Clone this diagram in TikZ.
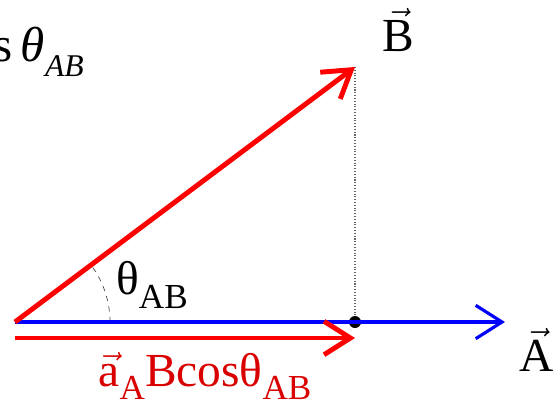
\documentclass[tikz,border=0pt]{standalone}
\usepackage{fontspec}
\usepackage{amsmath}
\setmainfont{Liberation Serif}
\usetikzlibrary{arrows.meta}
\newcommand{\lowsub}[1]{\raisebox{-0.28em}{\fontsize{20}{22}\selectfont #1}}
\tikzset{
  lbl/.style={font=\fontsize{27}{30}\selectfont},
  vecarrow/.style={->,line width=#1},
}
\begin{document}
\begin{tikzpicture}[>={Straight Barb[length=15pt,width=19pt]},x=0.02cm,y=0.02cm]
    \useasboundingbox (0,0) rectangle (554,407);
    \clip (0,0) rectangle (554,407);
    \coordinate (O) at (15,85);
    \coordinate (Btip) at (355,340);
    \coordinate (Atip) at (505,85);
    \coordinate (projS) at (15,69);
    \coordinate (projE) at (355,69);
    \node[circle,fill=black,inner sep=0pt,minimum size=0.24cm] (foot) at (355,85) {};
    \draw[densely dotted,gray!80!black,line width=0.6pt] (Btip) -- (foot);
    \draw[dashed,gray!60!black,thin] (110,85) arc[start angle=0,end angle=36.87,radius=95];
    \draw[vecarrow=1.8pt,blue] (O) -- (Atip);
    \draw[vecarrow=2.8pt,red] (O) -- (Btip);
    \draw[vecarrow=2.8pt,red] (projS) -- (projE);
    \node[lbl] (theta) at (152,122) {θ\lowsub{AB}};
    \node[lbl,text=red!85!black] (proj) at (205,31) {$\vec{\text{a}}$\lowsub{A}Bcosθ\lowsub{AB}};
    \node[lbl] (Alab) at (537,57) {$\vec{\text{A}}$};
    \node[lbl] (Blab) at (398,377) {$\vec{\text{B}}$};
    \node[anchor=base east,font=\fontsize{28}{30}\selectfont] (formula) at (90,346)
      {cos\,\textit{θ}\raisebox{-0.32em}{\fontsize{18}{20}\selectfont\textit{AB}}};
\end{tikzpicture}
\end{document}
